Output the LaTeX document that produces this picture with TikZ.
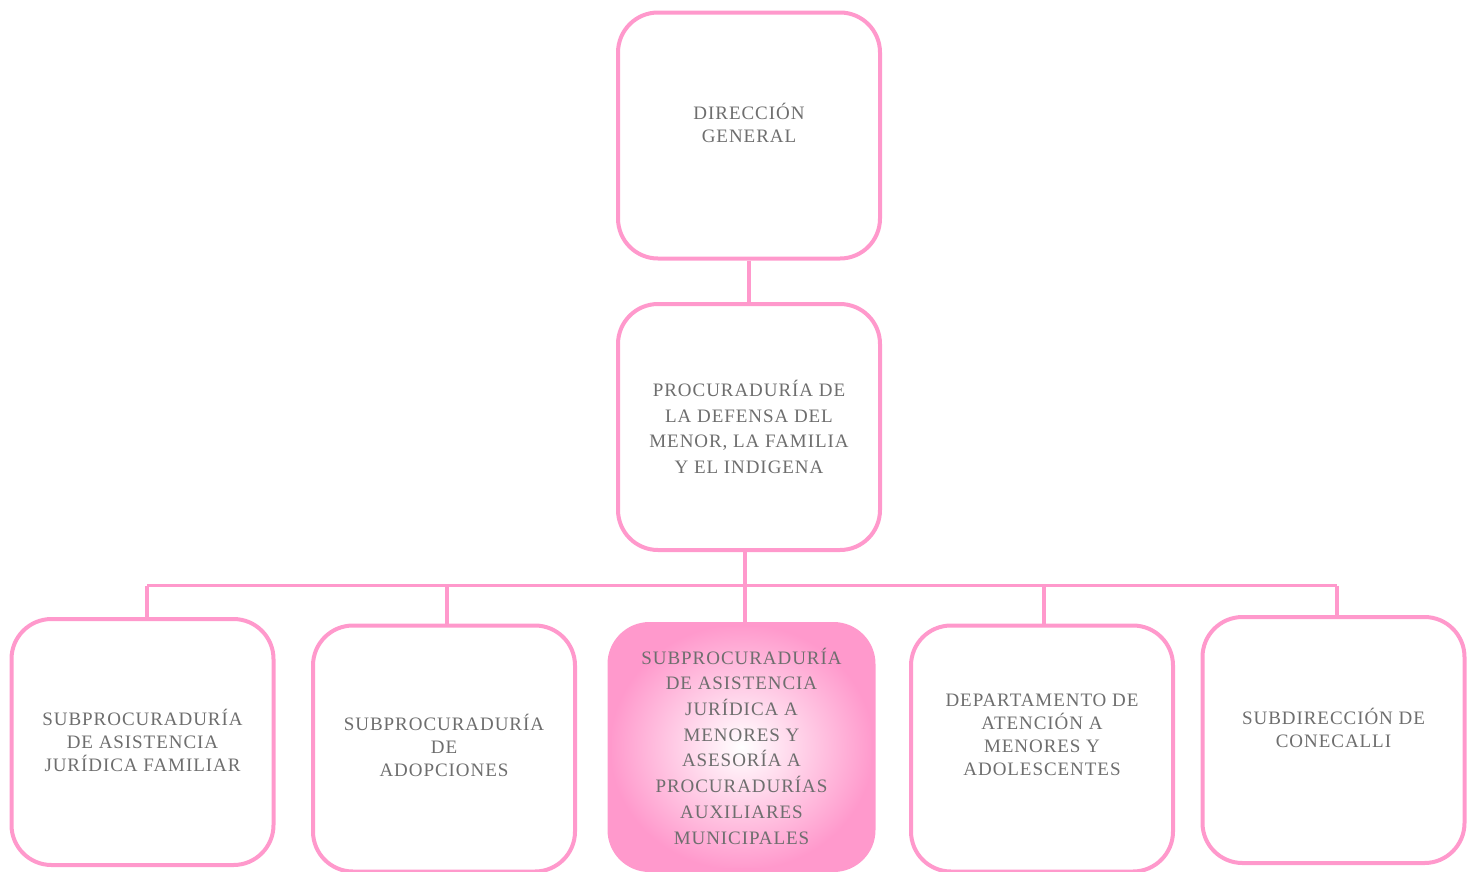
\documentclass[tikz,border=0pt]{standalone}
\usepackage{fontspec}
\usepackage{tikz}
\usetikzlibrary{positioning,calc,shapes}
\usepackage{xcolor}
\newfontfamily\titulo{Liberation Serif}[LetterSpace=5]
\definecolor{rosa}{RGB}{255,153,204}
\definecolor{gristexto}{RGB}{110,110,110}

\begin{document}
\begin{tikzpicture}[x=1pt, y=-1pt,
    caja/.style={draw=rosa, line width=4pt, rounded corners=40pt, fill=white,
        minimum width=262pt, minimum height=246pt, inner sep=0pt},
    txt/.style={text=gristexto, align=center, font=\titulo\fontsize{19}{23}\selectfont},
    txtalto/.style={txt, font=\titulo\fontsize{19}{25.7}\selectfont},
    linea/.style={draw=rosa, line width=3.5pt}]
    \useasboundingbox (0,0) rectangle (1476,871);

    % Level 0
    \node[caja] (dg) at (749,135.5) {};
    \node[txt] (dg-txt) at (749,122.5) {DIRECCIÓN\\GENERAL};

    % Level 1
    \node[caja] (pdm) at (749,427) {};
    \node[txtalto] (pdm-txt) at (pdm.center) {PROCURADURÍA DE\\LA DEFENSA DEL\\MENOR, LA FAMILIA\\Y EL INDIGENA};
    \draw[linea] (dg.south) -- (pdm.north);

    % Level 2
    \node[caja] (sajf) at (142.5,742) {};
    \node[txt] (sajf-txt) at (142.5,740.5) {SUBPROCURADURÍA\\DE ASISTENCIA\\JURÍDICA FAMILIAR};

    \node[caja] (sad) at (444,748.5) {};
    \node[txt] (sad-txt) at (444,745.5) {SUBPROCURADURÍA\\DE\\ADOPCIONES};

    \node[caja, draw=rosa, shading=radial, inner color=white, outer color=rosa,
        minimum width=264pt] (sajm) at (741.5,747) {};
    \node[txtalto] (sajm-txt) at (741.5,746) {SUBPROCURADURÍA\\DE ASISTENCIA\\JURÍDICA A\\MENORES Y\\ASESORÍA A\\PROCURADURÍAS\\AUXILIARES\\MUNICIPALES};

    \node[caja] (dama) at (1042,748.5) {};
    \node[txt] (dama-txt) at (1042,734.5) {DEPARTAMENTO DE\\ATENCIÓN A\\MENORES Y\\ADOLESCENTES};

    \node[caja] (sdc) at (1333.5,740) {};
    \node[txt] (sdc-txt) at (1333.5,727.5) {SUBDIRECCIÓN DE\\CONECALLI};

    % bus to level 2
    \coordinate (bus) at (745,585.5);
    \draw[linea] ([xshift=-4pt]pdm.south) -- ([xshift=-4pt]pdm.south |- bus);
    \draw[linea] ([xshift=4.5pt]sajf.north |- bus) -- ([xshift=3.5pt]sdc.north |- bus);
    \draw[linea] ([xshift=4.5pt]sajf.north |- bus) -- ([xshift=4.5pt]sajf.north);
    \draw[linea] ([xshift=3pt]sad.north |- bus) -- ([xshift=3pt]sad.north);
    \draw[linea] ([xshift=3.5pt]sajm.north |- bus) -- ([xshift=3.5pt]sajm.north);
    \draw[linea] ([xshift=2pt]dama.north |- bus) -- ([xshift=2pt]dama.north);
    \draw[linea] ([xshift=3.5pt]sdc.north |- bus) -- ([xshift=3.5pt]sdc.north);
\end{tikzpicture}
\end{document}
